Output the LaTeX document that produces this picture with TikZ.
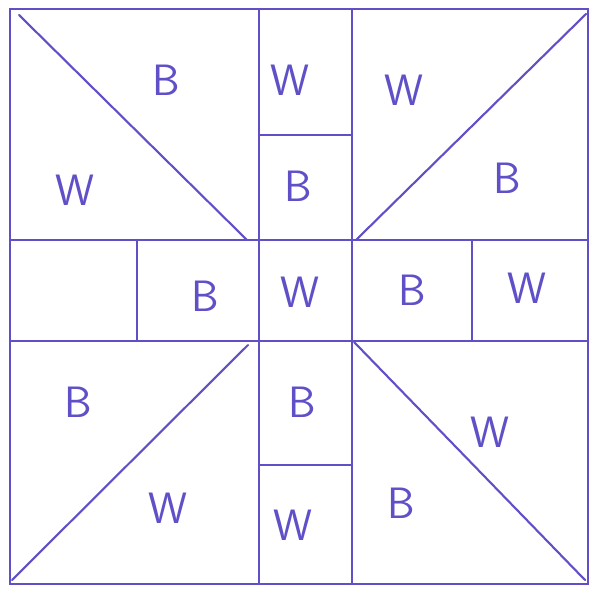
\documentclass[tikz,border=0pt]{standalone}
\begin{document}
\begin{tikzpicture}[x=0.02cm,y=-0.02cm]
    \definecolor{ink}{RGB}{95,80,200}
    \tikzset{patch/.style={font=\fontsize{25}{25}\selectfont\sffamily,text=ink}}
    \useasboundingbox (0,0) rectangle (590,590);
    \begin{scope}[draw=ink,line width=1.2pt,line cap=round]
    \draw (10,9) -- (588,9) -- (588,584) -- (10,584) -- cycle;
    \draw (10,240) -- (588,240);
    \draw (10,341) -- (588,341);
    \draw (259,9) -- (259,584);
    \draw (352,9) -- (352,584);
    \draw (259,135) -- (352,135);
    \draw (259,465) -- (352,465);
    \draw (137,240) -- (137,341);
    \draw (472,240) -- (472,341);
    \draw (19,15) -- (247,240);
    \draw (586,14) -- (356,240);
    \draw (12,580) -- (248,345);
    \draw (354,342) -- (585,580);
    \end{scope}
    \node[patch] (tlb) at (166,80) {B};
    \node[patch] (tlw) at (75,190) {W};
    \node[patch] (ctw) at (290,80) {W};
    \node[patch] (ctb) at (298,186) {B};
    \node[patch] (trw) at (404,90) {W};
    \node[patch] (trb) at (507,178) {B};
    \node[patch] (mlb) at (205,296) {B};
    \node[patch] (mcw) at (300,292) {W};
    \node[patch] (mrb) at (412,290) {B};
    \node[patch] (mrw) at (527,288) {W};
    \node[patch] (cbb) at (302,402) {B};
    \node[patch] (cbw) at (293,525) {W};
    \node[patch] (blb) at (78,402) {B};
    \node[patch] (blw) at (168,508) {W};
    \node[patch] (brw) at (490,432) {W};
    \node[patch] (brb) at (401,503) {B};
  \end{tikzpicture}
\end{document}
